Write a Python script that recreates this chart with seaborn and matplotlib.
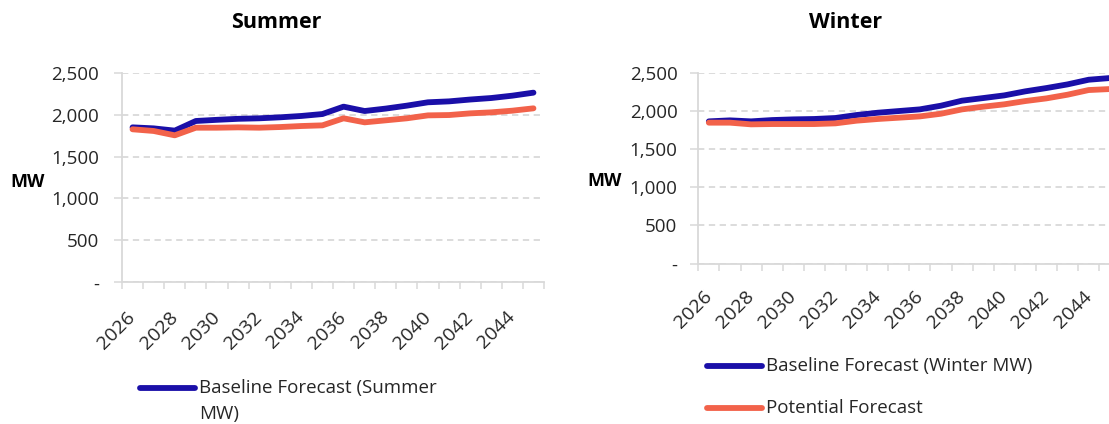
import matplotlib
matplotlib.use("Agg")
import matplotlib.pyplot as plt
import pandas as pd
import seaborn as sns
from matplotlib.ticker import FixedLocator, FuncFormatter

# Forecast years
years = list(range(2026, 2046))

# Summer peak demand (MW)
summer_baseline = [1848, 1836, 1809, 1924, 1938, 1950, 1956, 1968, 1984, 2007,
                   2095, 2043, 2072, 2107, 2147, 2158, 2180, 2198, 2226, 2262]
summer_potential = [1825, 1805, 1753, 1844, 1844, 1848, 1844, 1852, 1864, 1872,
                    1956, 1908, 1932, 1956, 1991, 1995, 2015, 2027, 2047, 2075]

# Winter peak demand (MW)
winter_baseline = [1863, 1876, 1863, 1880, 1889, 1894, 1907, 1946, 1976, 1998,
                   2020, 2068, 2134, 2168, 2203, 2256, 2299, 2347, 2408, 2430]
winter_potential = [1846, 1846, 1824, 1828, 1828, 1828, 1837, 1872, 1894, 1911,
                    1928, 1963, 2020, 2055, 2086, 2129, 2164, 2212, 2273, 2286]

summer_labels = ["Baseline Forecast (Summer MW)", "Potential Forecast"]
winter_labels = ["Baseline Forecast (Winter MW)", "Potential Forecast"]
year_ticks = list(range(2026, 2046, 2))
mw_ticks = [0, 500, 1000, 1500, 2000, 2500]

BLUE = "#1A0FA8"
ORANGE = "#F2624A"
GRID = "#D9D9D9"
TEXT = "#262626"

sns.set_theme(style="white")
plt.rcParams["font.family"] = ["Open Sans", "DejaVu Sans"]
plt.rcParams["text.color"] = TEXT

W, H = 1109, 424
fig = plt.figure(figsize=(W / 100, H / 100), dpi=100)
fig.patch.set_facecolor("white")


def frame(ax, label_pad, xlabel_pad):
    ax.set_xlim(2025.5, 2045.5)
    ax.set_ylim(0, 2500)
    ax.set_xlabel("")
    ax.set_ylabel("")
    for side in ("top", "right"):
        ax.spines[side].set_visible(False)
    for side in ("left", "bottom"):
        ax.spines[side].set_color(GRID)
        ax.spines[side].set_linewidth(1.3)
    ax.yaxis.set_major_locator(FixedLocator(mw_ticks))
    ax.yaxis.set_major_formatter(
        FuncFormatter(lambda v, _: "-" if v == 0 else f"{v:,.0f}"))
    ax.tick_params(axis="y", which="major", direction="out", length=5.8,
                   width=1.1, color=GRID, pad=label_pad, labelsize=13.5,
                   labelcolor=TEXT, left=True)
    ax.grid(axis="y", color=GRID, linestyle=(0, (3.5, 2.5)), linewidth=1.3)
    ax.grid(axis="x", visible=False)
    ax.xaxis.set_major_locator(FixedLocator(year_ticks))
    ax.xaxis.set_minor_locator(FixedLocator([2025.5 + k for k in range(21)]))
    ax.tick_params(axis="x", which="major", length=0, pad=xlabel_pad,
                   labelsize=14, labelcolor=TEXT, bottom=True)
    ax.tick_params(axis="x", which="minor", direction="out", length=5,
                   width=1.1, color=GRID, bottom=True)
    for lbl in ax.get_xticklabels():
        lbl.set_rotation(45)
        lbl.set_ha("right")
        lbl.set_va("center")
        lbl.set_rotation_mode("anchor")
    ax.set_axisbelow(True)


def draw(ax, base, pot, labels):
    df = pd.DataFrame({
        "Year": years * 2,
        "MW": base + pot,
        "Series": [labels[0]] * len(years) + [labels[1]] * len(years),
    })
    sns.lineplot(data=df, x="Year", y="MW", hue="Series",
                 palette=[BLUE, ORANGE], linewidth=4.2, legend=False, ax=ax)
    for ln in ax.get_lines():
        ln.set_solid_capstyle("round")
        ln.set_solid_joinstyle("round")
    return ax.get_lines()


ax_s = fig.add_axes([122 / W, 1 - 282.3 / H, 422 / W, 209.6 / H])
ax_w = fig.add_axes([698.3 / W, 1 - 263.7 / H, 422 / W, 191 / H])

lines_s = draw(ax_s, summer_baseline, summer_potential, summer_labels)
lines_w = draw(ax_w, winter_baseline, winter_potential, winter_labels)
frame(ax_s, 10.5, 23)
frame(ax_w, 9.2, 21.5)

# Titles and unit labels
fig.text(276 / W, 1 - 22 / H, "Summer", ha="center", va="center",
         fontsize=15.5, fontweight="bold", color="black")
fig.text(845.5 / W, 1 - 22 / H, "Winter", ha="center", va="center",
         fontsize=15.5, fontweight="bold", color="black")
fig.text(28 / W, 1 - 182 / H, "MW", ha="center", va="center",
         fontsize=13, fontweight="bold", color="black")
fig.text(604.5 / W, 1 - 181 / H, "MW", ha="center", va="center",
         fontsize=13, fontweight="bold", color="black")

leg_kw = dict(frameon=False, fontsize=13.5, handlelength=2.95,
              handletextpad=0.22, borderpad=0, borderaxespad=0,
              loc="upper left", handleheight=1.45)

# Summer legend: only the baseline entry fits, label wraps onto two lines
leg_s = fig.legend(handles=[lines_s[0]],
                   labels=["Baseline Forecast (Summer\nMW)"],
                   bbox_to_anchor=(140 / W, 1 - 379.5 / H), **leg_kw)
leg_s.get_texts()[0].set_linespacing(1.55)

leg_w = fig.legend(handles=[lines_w[0], lines_w[1]], labels=winter_labels,
                   bbox_to_anchor=(707 / W, 1 - 357.5 / H), labelspacing=1.02,
                   **leg_kw)

for leg in (leg_s, leg_w):
    for col in leg._legend_handle_box.get_children():
        for row in col.get_children():
            row.align = "top"
    for h in leg.legend_handles:
        h.set_linewidth(4.2)
        h.set_solid_capstyle("round")

fig.savefig("out.png", dpi=100, facecolor="white")
